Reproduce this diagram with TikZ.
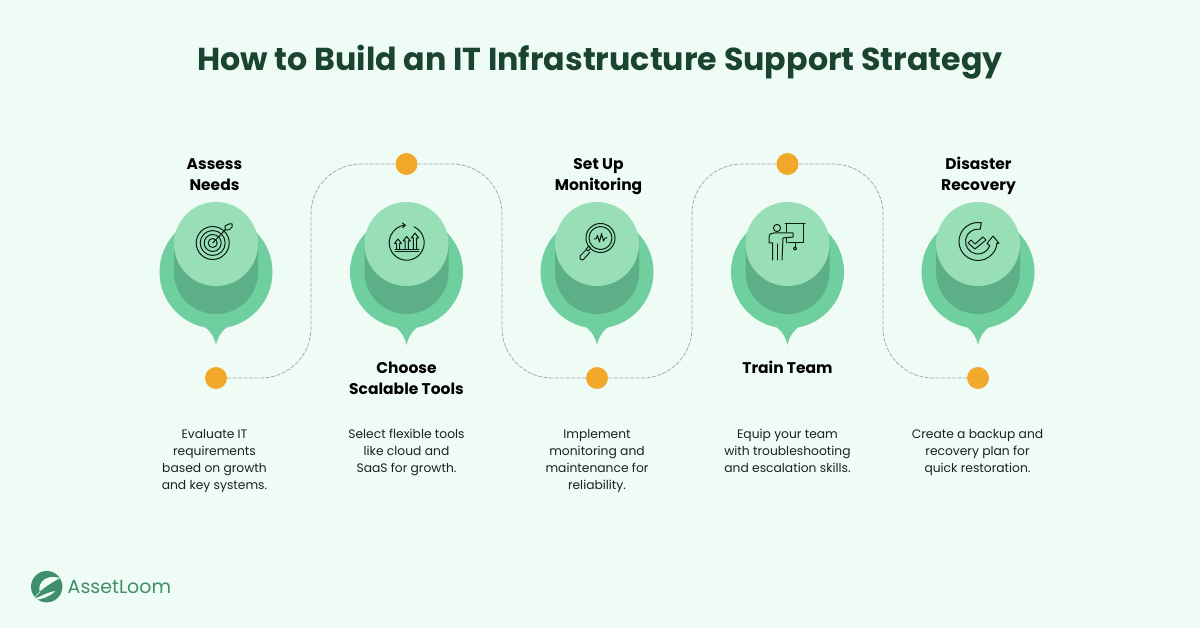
\documentclass[tikz,border=0pt]{standalone}
\usepackage{fontspec}
\setmainfont{Poppins}
\usetikzlibrary{arrows.meta}
\definecolor{bgc}{HTML}{EEFCF5}
\definecolor{pinbig}{HTML}{6FCF9F}
\definecolor{pintop}{HTML}{98DFB8}
\definecolor{pindark}{HTML}{5DAF87}
\definecolor{dotc}{HTML}{F2A92B}
\definecolor{titlec}{HTML}{1B4332}
\definecolor{logoc}{HTML}{3F8F6E}
\definecolor{linec}{HTML}{A3AEA8}
\definecolor{iconc}{HTML}{0A1C13}
\tikzset{
  titletext/.style={font=\fontsize{31.7}{38}\selectfont\bfseries,text=titlec,inner sep=0pt},
  headtext/.style={font=\fontsize{15.5}{21}\selectfont\bfseries,text=black,align=center,inner sep=0pt,anchor=north},
  bodytext/.style={font=\fontsize{12.3}{17}\selectfont,text=black!88,align=center,inner sep=0pt,anchor=north},
  dotnode/.style={circle,fill=dotc,minimum size=22pt,inner sep=0pt},
  connector/.style={draw=linec,line width=0.8pt,dash pattern=on 4pt off 1.5pt,rounded corners=50pt},
  iconline/.style={draw=iconc,line width=1pt,line cap=round,line join=round},
  logotext/.style={font=\fontsize{19}{22}\selectfont,text=logoc,inner sep=0pt,anchor=west}
}
\newcommand{\pinshape}[1]{%
  \begin{scope}[shift={(#1,0)}]
    \fill[pinbig] (0,272) circle[radius=56.5pt];
    \fill[pinbig] (-18,322) .. controls (-8,328) and (-2,335) .. (0,345) .. controls (2,335) and (8,328) .. (18,322) -- cycle;
    \fill[pindark] (-42,244) -- (42,244) -- (42,272) arc[start angle=0,end angle=-180,radius=42pt] -- cycle;
    \fill[pintop] (0,244) circle[radius=42pt];
  \end{scope}}
\begin{document}
\begin{tikzpicture}[x=1pt,y=-1pt]
\useasboundingbox (0,0) rectangle (1200,628);
\fill[bgc] (0,0) rectangle (1200,628);
\node[titletext] (title) at (600,62.5) {How to Build an IT Infrastructure Support Strategy};

\pinshape{216}\pinshape{406.5}\pinshape{597}\pinshape{787.5}\pinshape{978}

\node[dotnode] (d1) at (216,378) {};
\node[dotnode] (d2) at (406.5,164) {};
\node[dotnode] (d3) at (597,378) {};
\node[dotnode] (d4) at (787.5,164) {};
\node[dotnode] (d5) at (978,378) {};
\coordinate (m1) at (311,271);
\coordinate (m2) at (502,271);
\coordinate (m3) at (692,271);
\coordinate (m4) at (883,271);
\draw[connector] (d1.east) -| (m1) |- (d2.west);
\draw[connector] (d2.east) -| (m2) |- (d3.west);
\draw[connector] (d3.east) -| (m3) |- (d4.west);
\draw[connector] (d4.east) -| (m4) |- (d5.west);

\node[headtext] (h1) at (214.5,158.5) {Assess\\Needs};
\node[headtext] (h2) at (406.5,362) {Choose\\Scalable Tools};
\node[headtext] (h3) at (598.5,158.5) {Set Up\\Monitoring};
\node[headtext] (h4) at (787.5,360.5) {Train Team};
\node[headtext] (h5) at (978.5,156.5) {Disaster\\Recovery};

\node[bodytext] (b1) at (214.5,429) {Evaluate IT\\requirements\\based on growth\\and key systems.};
\node[bodytext] (b2) at (406.5,429) {Select flexible tools\\like cloud and\\SaaS for growth.};
\node[bodytext] (b3) at (597,429) {Implement\\monitoring and\\maintenance for\\reliability.};
\node[bodytext] (b4) at (787.5,429) {Equip your team\\with troubleshooting\\and escalation skills.};
\node[bodytext] (b5) at (977.5,429) {Create a backup and\\recovery plan for\\quick restoration.};

% icon 1: target
\begin{scope}[iconline]
  \foreach \r in {4.5,8.5,12.5,16.5} \draw (212.7,243) circle[radius=\r pt];
  \draw (212.7,243) -- (226,229);
  \draw (225,226) -- (225,230) -- (229,230) -- (232,227) -- (232,224) -- (229,224) -- cycle;
\end{scope}
% icon 2: growth
\begin{scope}[iconline]
  \draw[-{Straight Barb[length=3pt,width=5pt]}] ([shift={(65:17.5pt)}]406.7,242.7) arc[start angle=65,end angle=-268,radius=17.5pt];
  \draw (395,252) -- (419,252) (395,249.5) -- (419,249.5);
  \draw (396.5,249.5) -- (396.5,243.5) -- (394.5,243.5) -- (398,239) -- (401.5,243.5) -- (399.5,243.5) -- (399.5,249.5);
  \draw (405,249.5) -- (405,241) -- (403,241) -- (406.7,236.5) -- (410.4,241) -- (408.4,241) -- (408.4,249.5);
  \draw (413.3,249.5) -- (413.3,238) -- (411.3,238) -- (415,233) -- (418.7,238) -- (416.7,238) -- (416.7,249.5);
\end{scope}
% icon 3: magnifier
\begin{scope}[iconline]
  \draw (600.5,238) circle[radius=14.5pt];
  \draw (600.5,238) circle[radius=11.5pt];
  \draw (594,239) -- (596,239) -- (597.5,235.5) -- (599.5,242) -- (601.5,233.5) -- (603.5,241) -- (605,238) -- (607,238);
  \draw (590.5,248.5) -- (588,251) -- (586,249) -- (589,246) -- cycle;
  \draw (587,249) -- (580,256) -- (580,259) -- (583,260) -- (590,252);
\end{scope}
% icon 4: trainer
\begin{scope}[iconline]
  \draw (777,228) circle[radius=3.6pt];
  \draw (785,224) -- (805,224) (786,224) -- (786,232) (803.5,224) -- (803.5,243) -- (788,243) (786,238.5) -- (786,243);
  \draw (795,243) -- (795,247);
  \draw (795,248.5) circle[radius=1.6pt];
  \draw (772.5,260) -- (772.5,243) -- (769,243) -- (769,238) .. controls (769,234) and (771,233) .. (774,233) -- (793,233) -- (793,237) -- (783,238) -- (782,260);
  \draw (777.5,244) -- (777.5,260);
\end{scope}
% icon 5: recovery
\begin{scope}[iconline]
  \draw ([shift={(80:19pt)}]978,241.5) arc[start angle=80,end angle=355,radius=19pt] coordinate (oe);
  \draw ([shift={(80:12.5pt)}]978,241.5) coordinate (is) arc[start angle=80,end angle=340,radius=12.5pt] coordinate (ie);
  \draw ([shift={(80:19pt)}]978,241.5) -- (is);
  \draw (oe) -- (999,243.5) -- (993,236) -- (987,243.5) -- (ie);
  \draw (968,243) -- (971,240) -- (975,244) -- (983,237) -- (986,240) -- (975,249) -- cycle;
\end{scope}
% logo
\fill[logoc] (46.7,586.7) circle[radius=15.7pt];
\fill[bgc] (34,598) .. controls (40,590) and (46,586) .. (60,578) .. controls (56,577) and (46,575) .. (41,583) .. controls (39,586) and (39,590) .. (40,592) -- cycle;
\fill[bgc] (32,600) .. controls (41,596) and (49,592) .. (55,591) .. controls (50,597) and (42,599) .. (35,600) -- cycle;
\node[logotext] (logo) at (67.5,586.5) {AssetLoom};
\end{tikzpicture}
\end{document}
